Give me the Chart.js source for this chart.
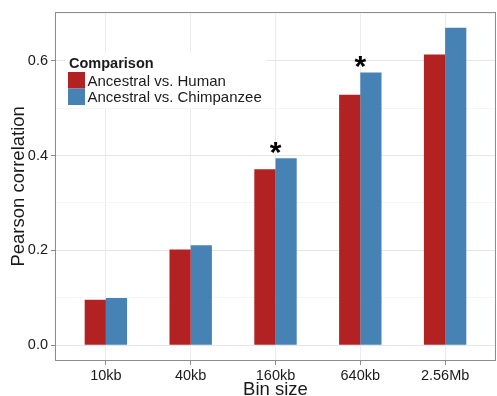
<!DOCTYPE html>
<html>
<head>
<meta charset="utf-8">
<script src="https://cdn.jsdelivr.net/npm/chart.js@4"></script>
<style>
  html, body { margin: 0; padding: 0; background: #fff; }
</style>
</head>
<body>
<canvas id="corr-chart" width="497" height="396"></canvas>
<script>
// bin sizes along the x axis
const categories = ['10kb', '40kb', '160kb', '640kb', '2.56Mb'];
const seriesNames = ['Ancestral vs. Human', 'Ancestral vs. Chimpanzee'];
// pearson correlation per bin size
const humanValues = [0.096, 0.202, 0.371, 0.528, 0.613];
const chimpValues = [0.0995, 0.211, 0.394, 0.575, 0.669];
// bins marked with an asterisk
const significant = [false, false, true, true, false];
const yTicks = [0.0, 0.2, 0.4, 0.6];

const FONT = "'Liberation Sans', Arial, sans-serif";
const TEXT = '#1a1a1a';

// turn a series into {x, y} points so the bars sit on a linear x scale
function toPoints(values) {
    return values.map(function (v, i) { return { x: i + 1, y: v }; });
}

function isMajor(v) {
    return yTicks.some(function (t) { return Math.abs(t - v) < 1e-6; });
}

// panel border, asterisks and the legend inside the panel
const decorPlugin = {
    id: 'decor',
    afterDatasetsDraw: function (chart) {
        const ctx = chart.ctx;
        const area = chart.chartArea;
        const xs = chart.scales.x;
        const ys = chart.scales.y;
        ctx.save();

        // asterisks above the taller bar
        ctx.fillStyle = '#000';
        ctx.font = 'bold 30px ' + FONT;
        ctx.textAlign = 'center';
        ctx.textBaseline = 'alphabetic';
        significant.forEach(function (sig, i) {
            if (!sig) return;
            const top = Math.max(humanValues[i], chimpValues[i]);
            const px = xs.getPixelForValue(i + 1);
            const py = ys.getPixelForValue(top) - 11;
            ctx.fillText('*', px, py + 15);
        });

        // legend box
        ctx.fillStyle = '#fff';
        ctx.fillRect(65, 53, 201, 55);
        ctx.textAlign = 'left';
        ctx.fillStyle = TEXT;
        ctx.font = 'bold 14.5px ' + FONT;
        ctx.fillText('Comparison', 69, 68);
        const colors = chart.data.datasets.map(function (d) { return d.backgroundColor; });
        ctx.font = '15px ' + FONT;
        seriesNames.forEach(function (name, i) {
            ctx.fillStyle = colors[i];
            ctx.fillRect(68, 72 + i * 16.5, 17, 16.5);
            ctx.fillStyle = TEXT;
            ctx.fillText(name, 87.5, 86 + i * 16);
        });

        // panel border
        ctx.strokeStyle = '#8c8c8c';
        ctx.lineWidth = 1;
        ctx.strokeRect(Math.round(area.left) + 0.5, Math.round(area.top) + 0.5,
            Math.round(area.right - area.left) - 1, Math.round(area.bottom - area.top) - 1);
        ctx.restore();
    }
};

const ctx = document.getElementById('corr-chart').getContext('2d');
new Chart(ctx, {
    type: 'bar',
    data: {
        datasets: [{
            label: seriesNames[0],
            data: toPoints(humanValues),
            backgroundColor: '#B22222'
        }, {
            label: seriesNames[1],
            data: toPoints(chimpValues),
            backgroundColor: '#4682B4'
        }]
    },
    options: {
        responsive: false,
        animation: false,
        devicePixelRatio: 1,
        categoryPercentage: 0.5,
        barPercentage: 1.0,
        layout: { padding: { left: 0, top: 11, right: 1, bottom: 0 } },
        plugins: {
            legend: { display: false },
            tooltip: { enabled: false }
        },
        scales: {
            x: {
                type: 'linear',
                min: 0.4,
                max: 5.6,
                offset: false,
                afterFit: function (scale) { scale.height = 35; },
                ticks: {
                    stepSize: 1,
                    includeBounds: false,
                    padding: 2,
                    color: TEXT,
                    font: { family: FONT, size: 14.5 },
                    callback: function (v) {
                        const i = Math.round(v) - 1;
                        return Math.abs(v - Math.round(v)) < 1e-6 ? categories[i] : '';
                    }
                },
                grid: {
                    offset: false,
                    color: '#ebebeb',
                    tickColor: '#8c8c8c',
                    tickLength: 4
                },
                border: { display: false },
                title: {
                    display: true,
                    text: 'Bin size',
                    color: TEXT,
                    font: { family: FONT, size: 18.5, lineHeight: 1.0 },
                    padding: { top: 0, bottom: -3 }
                }
            },
            y: {
                min: -0.033,
                max: 0.703,
                afterFit: function (scale) { scale.width = 55; },
                ticks: {
                    stepSize: 0.1,
                    includeBounds: false,
                    padding: 3,
                    color: TEXT,
                    font: { family: FONT, size: 14.5 },
                    callback: function (v) {
                        return isMajor(v) ? v.toFixed(1) : '';
                    }
                },
                grid: {
                    color: function (c) { return isMajor(c.tick.value) ? '#e6e6e6' : '#f5f5f5'; },
                    tickColor: function (c) { return isMajor(c.tick.value) ? '#8c8c8c' : 'rgba(0,0,0,0)'; },
                    tickLength: 4
                },
                border: { display: false },
                title: {
                    display: true,
                    text: 'Pearson correlation',
                    color: TEXT,
                    font: { family: FONT, size: 18.5 },
                    padding: { top: 8, bottom: 0 }
                }
            }
        }
    },
    plugins: [decorPlugin]
});
</script>
</body>
</html>
